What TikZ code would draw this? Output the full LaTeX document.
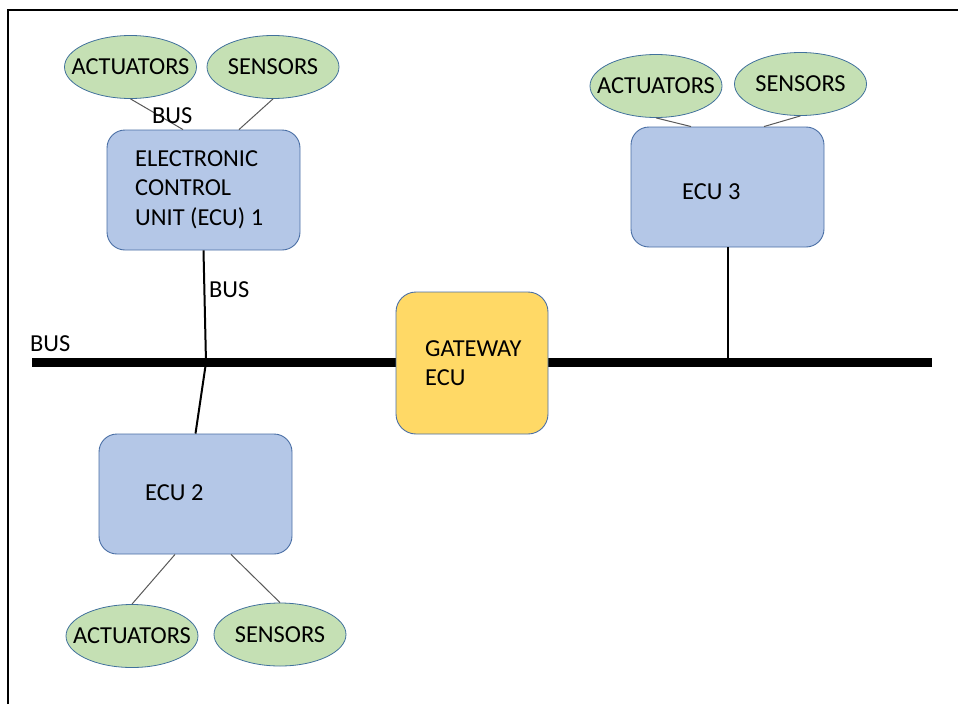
\documentclass[tikz,border=0pt]{standalone}
\usepackage{fontspec}
\setmainfont{Carlito}
\usetikzlibrary{shapes.geometric,calc}
\definecolor{boxblue}{HTML}{B4C7E7}
\definecolor{boxedge}{HTML}{4A6FA5}
\definecolor{ellgreen}{HTML}{C5E0B4}
\definecolor{elledge}{HTML}{41719C}
\definecolor{gateyellow}{HTML}{FFD966}
\definecolor{thinline}{HTML}{595959}
\begin{document}
\begin{tikzpicture}[x=1pt,y=-1pt,
  every node/.style={font=\fontsize{24.4}{29.5}\selectfont, inner sep=0pt},
  ecubox/.style={draw=boxedge, line width=0.9pt, fill=boxblue, rounded corners=18pt,
    minimum width=193pt, minimum height=120pt},
  gatebox/.style={draw=boxedge, line width=0.9pt, fill=gateyellow, rounded corners=20pt,
    minimum width=152pt, minimum height=142pt},
  peri/.style={ellipse, draw=elledge, line width=0.8pt, fill=ellgreen,
    minimum width=132pt, minimum height=63pt},
  thin link/.style={draw=thinline, line width=1pt},
  bus link/.style={draw=black, line width=2pt},
  mainbus/.style={draw=black, line width=9pt},
  txt/.style={anchor=base west, align=left}
]
\useasboundingbox (0,0) rectangle (958,704);
\draw[line width=2pt] (8,704) -- (8,10) -- (958,10);

% main bus
\coordinate (busL) at (32,362.5);
\coordinate (busR) at (932,362.5);
\coordinate (j1) at (206,362.5);
\coordinate (j3) at (727.5,362.5);
\draw[mainbus] (busL) -- (busR);

% ECU boxes
\node[ecubox] (ecu1) at (203.5,190) {};
\node[ecubox] (ecu2) at (195.5,494) {};
\node[ecubox] (ecu3) at (727.5,187) {};
\node[gatebox] (gw) at (472,363) {};

\node[txt] (ecu1t) at (135,225) {ELECTRONIC\\CONTROL\\UNIT (ECU) 1};
\node[txt] (ecu2t) at (145,500.5) {ECU 2};
\node[txt] (ecu3t) at (682,199.5) {ECU 3};
\node[txt] (gwt) at (425,385.5) {GATEWAY\\ECU};

% peripherals
\node[peri, label=center:ACTUATORS] (a1) at (130.5,67) {};
\node[peri, label=center:SENSORS] (s1) at (273,67) {};
\node[peri, label=center:ACTUATORS] (a2) at (132,636) {};
\node[peri, label=center:SENSORS] (s2) at (280,634.5) {};
\node[peri, label=center:ACTUATORS] (a3) at (656,86) {};
\node[peri, label=center:SENSORS] (s3) at (800.5,84) {};

% thin links
\draw[thin link] (a1.south) -- ($(ecu1.north)+(-20.5,0)$);
\draw[thin link] (s1.south) -- ($(ecu1.north)+(35.5,0)$);
\draw[thin link] (a2.north) -- ($(ecu2.south)+(-20.5,0)$);
\draw[thin link] (s2.north) -- ($(ecu2.south)+(35.5,0)$);
\draw[thin link] (a3.south) -- ($(ecu3.north)+(-36.5,0)$);
\draw[thin link] (s3.south) -- ($(ecu3.north)+(36.5,0)$);

% bus links
\draw[bus link] (ecu1.south) -- (j1) -- (ecu2.north);
\draw[bus link] (ecu3.south) -- (j3);

% bus labels
\node[txt] (bus1) at (152,123.5) {BUS};
\node[txt] (bus2) at (209,297.5) {BUS};
\node[txt] (bus3) at (30,351) {BUS};
\end{tikzpicture}
\end{document}
